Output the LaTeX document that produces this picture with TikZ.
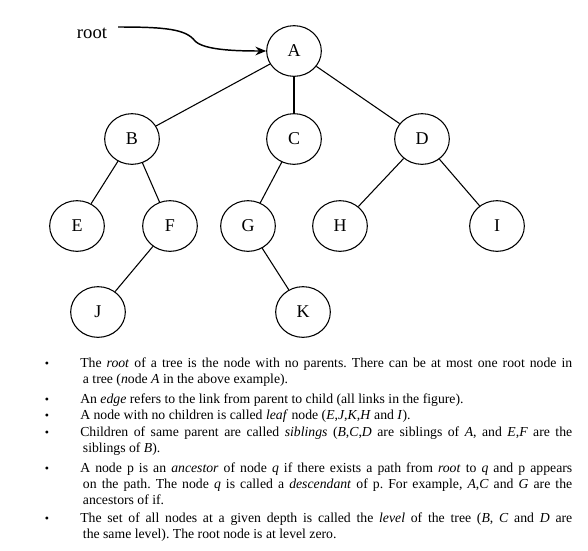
\documentclass[tikz,border=0pt]{standalone}
\usepackage{fontspec}
\setmainfont{Liberation Serif}
\usetikzlibrary{
  arrows.meta,
  shapes.geometric
}

\begin{document}
\frenchspacing
\begin{tikzpicture}[
      x=0.75pt,y=-0.75pt,
      treenode/.style={
         ellipse,
         draw,
         thick,
         minimum width=41pt,
         minimum height=38pt,
         inner sep=0pt,
         font=\fontsize{13.5}{15}\selectfont
      },
      link/.style={thick},
      bulletitem/.style={
         anchor=base west,
         inner sep=0pt,
         text width=369pt,
         align=justify,
         font=\fontsize{10.3}{12}\selectfont
      },
      dot/.style={anchor=base,inner sep=0pt,font=\fontsize{9}{12}\selectfont},
      >={Stealth[length=8pt,width=6.5pt]}
    ]
    \useasboundingbox (0,0) rectangle (588,550);
    % the tree
    \node (A) [treenode] at (294,51) {A};
    \node (B) [treenode] at (132,139) {B};
    \node (C) [treenode] at (294,139) {C};
    \node (D) [treenode] at (422,139) {D};
    \node (E) [treenode] at (77,226) {E};
    \node (F) [treenode] at (170,226) {F};
    \node (G) [treenode] at (248,226) {G};
    \node (H) [treenode] at (340,226) {H};
    \node (I) [treenode] at (497,226) {I};
    \node (J) [treenode] at (98,312) {J};
    \node (K) [treenode] at (303,312) {K};
    \draw[link] (A) -- (B);
    \draw[link] (A) -- (C);
    \draw[link] (A) -- (D);
    \draw[link] (B) -- (E);
    \draw[link] (B) -- (F);
    \draw[link] (C) -- (G);
    \draw[link] (D) -- (H);
    \draw[link] (D) -- (I);
    \draw[link] (F) -- (J);
    \draw[link] (G) -- (K);
    % root pointer
    \node (rootlbl) [font=\fontsize{14}{16}\selectfont] at (92,33) {root};
    \coordinate (rootstart) at (118,27);
    \coordinate (rootbend) at (195,41);
    \draw[line width=1.1pt,->] (rootstart) .. controls (165,27) and (186,29) .. (rootbend)
       .. controls (204,50) and (235,51) .. (A.west);
    % the notes
    \node (d1) [dot] at (47,367) {\textbullet};
    \node (t1) [bulletitem] at (80,367) {The \textit{root} of a tree is the node with no parents. There can be at most one root node in\linebreak\hspace*{2pt}a tree (\textit{n}ode \textit{A} in the above example).};
    \node (d2) [dot] at (47,403) {\textbullet};
    \node (t2) [bulletitem] at (80,403) {An \textit{edge} refers to the link from parent to child (all links in the figure).};
    \node (d3) [dot] at (47,419) {\textbullet};
    \node (t3) [bulletitem] at (80,419) {A node with no children is called \textit{leaf} node (\textit{E},\textit{J},\textit{K},\textit{H} and \textit{I}).};
    \node (d4) [dot] at (47,436) {\textbullet};
    \node (t4) [bulletitem] at (80,436) {Children of same parent are called \textit{siblings} (\textit{B},\textit{C},\textit{D} are siblings of \textit{A}, and \textit{E},\textit{F} are the\linebreak\hspace*{2pt}siblings of \textit{B}).};
    \node (d5) [dot] at (47,472) {\textbullet};
    \node (t5) [bulletitem] at (80,472) {A node p is an \textit{ancestor} of node \textit{q} if there exists a path from \textit{root} to \textit{q} and p appears\linebreak\hspace*{2pt}on the path. The node \textit{q} is called a \textit{descendant} of p. For example, \textit{A},\textit{C} and \textit{G} are the\linebreak\hspace*{2pt}ancestors of if.};
    \node (d6) [dot] at (47,522) {\textbullet};
    \node (t6) [bulletitem] at (80,522) {The set of all nodes at a given depth is called the \textit{level} of the tree (\textit{B}, \textit{C} and \textit{D} are\linebreak\hspace*{2pt}the same level). The root node is at level zero.};
\end{tikzpicture}
\end{document}
